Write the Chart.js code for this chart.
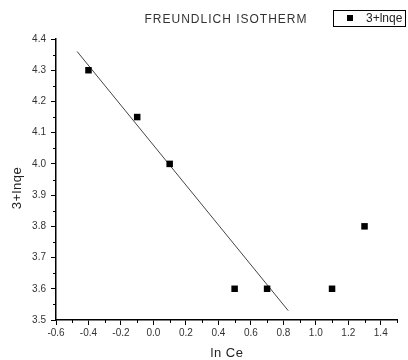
<!DOCTYPE html>
<html>
<head>
<meta charset="UTF-8">
<title>Freundlich isotherm</title>
<script src="https://cdn.jsdelivr.net/npm/chart.js"></script>
<style>
  html, body { margin: 0; padding: 0; background: #fff; }
  .box { width: 408px; height: 360px; }
</style>
</head>
<body>
<div class="box"><canvas id="myChart"></canvas></div>
<script>
// measured points (ln Ce, 3+lnqe)
const lnCe = [-0.4, -0.1, 0.1, 0.5, 0.7, 1.1, 1.3];
const lnqe = [4.3, 4.15, 4.0, 3.6, 3.6, 3.6, 3.8];
// fitted line end points
const fitX = [-0.47, 0.83];
const fitY = [4.36, 3.53];

const FONT = '"Liberation Sans", Arial, sans-serif';

const pts = lnCe.map((x, i) => ({ x: x, y: lnqe[i] }));
const fit = fitX.map((x, i) => ({ x: x, y: fitY[i] }));

const isMajorX = v => Math.round(v * 10) % 2 === 0;
const isMajorY = v => Math.round(v * 100) % 10 === 0;

// title, legend box, axis titles and the short minor ticks
const decor = {
  id: 'decor',
  afterDraw(chart) {
    const c = chart.ctx;
    const xs = chart.scales.x, ys = chart.scales.y;
    c.save();

    // minor ticks
    c.strokeStyle = '#000';
    c.lineWidth = 1;
    c.beginPath();
    xs.ticks.forEach(t => {
      if (!isMajorX(t.value)) {
        const px = Math.round(xs.getPixelForValue(t.value)) + 0.5;
        c.moveTo(px, xs.top);
        c.lineTo(px, xs.top + 3);
      }
    });
    ys.ticks.forEach(t => {
      if (!isMajorY(t.value)) {
        const py = Math.round(ys.getPixelForValue(t.value)) + 0.5;
        c.moveTo(ys.right - 3, py);
        c.lineTo(ys.right, py);
      }
    });
    c.stroke();

    // chart title
    c.fillStyle = '#333';
    c.font = '12px ' + FONT;
    c.textAlign = 'center';
    c.textBaseline = 'middle';
    if ('letterSpacing' in c) c.letterSpacing = '1px';
    c.fillText('FREUNDLICH ISOTHERM', 226, 20);
    if ('letterSpacing' in c) c.letterSpacing = '0px';

    // legend
    c.strokeStyle = '#000';
    c.strokeRect(333.5, 10.5, 72, 16);
    c.fillStyle = '#000';
    c.fillRect(347, 15, 6, 6);
    c.fillStyle = '#222';
    c.textAlign = 'left';
    c.font = '12px ' + FONT;
    c.fillText('3+lnqe', 366, 18.5);

    // axis titles
    c.font = '13px ' + FONT;
    c.textAlign = 'center';
    if ('letterSpacing' in c) c.letterSpacing = '0.5px';
    c.fillText('ln Ce', 227, 353);
    c.translate(17, 188);
    c.rotate(-Math.PI / 2);
    c.fillText('3+lnqe', 0, 0);
    c.restore();
  }
};

new Chart(document.getElementById('myChart'), {
  type: 'scatter',
  data: {
    datasets: [{
      label: '3+lnqe',
      data: pts,
      pointStyle: 'rect',
      pointRadius: 4.6,
      pointHoverRadius: 4.6,
      backgroundColor: '#000',
      borderColor: '#000',
      borderWidth: 0
    }, {
      type: 'line',
      label: 'fit',
      data: fit,
      borderColor: '#444',
      borderWidth: 1,
      pointRadius: 0,
      fill: false
    }]
  },
  options: {
    responsive: true,
    maintainAspectRatio: false,
    animation: false,
    layout: { padding: { top: 39, right: 11, left: 0, bottom: 0 } },
    plugins: {
      legend: { display: false },
      title: { display: false },
      tooltip: { enabled: false }
    },
    scales: {
      x: {
        type: 'linear',
        min: -0.6,
        max: 1.5,
        afterFit: s => { s.height = 40; },
        border: { display: true, color: '#000', width: 1.5 },
        grid: {
          drawOnChartArea: false,
          tickLength: 5,
          tickColor: ctx => (isMajorX(ctx.tick.value) ? '#000' : 'rgba(0,0,0,0)')
        },
        ticks: {
          stepSize: 0.1,
          color: '#333',
          font: { family: FONT, size: 10 },
          padding: 2,
          maxRotation: 0,
          autoSkip: false,
          callback: v => (isMajorX(v) ? v.toFixed(1) : '')
        }
      },
      y: {
        type: 'linear',
        min: 3.5,
        max: 4.4,
        afterFit: s => { s.width = 56; },
        border: { display: true, color: '#000', width: 1.5 },
        grid: {
          drawOnChartArea: false,
          tickLength: 5,
          tickColor: ctx => (isMajorY(ctx.tick.value) ? '#000' : 'rgba(0,0,0,0)')
        },
        ticks: {
          stepSize: 0.05,
          color: '#333',
          font: { family: FONT, size: 10 },
          padding: 5,
          autoSkip: false,
          callback: v => (isMajorY(v) ? v.toFixed(1) : '')
        }
      }
    }
  },
  plugins: [decor]
});
</script>
</body>
</html>
